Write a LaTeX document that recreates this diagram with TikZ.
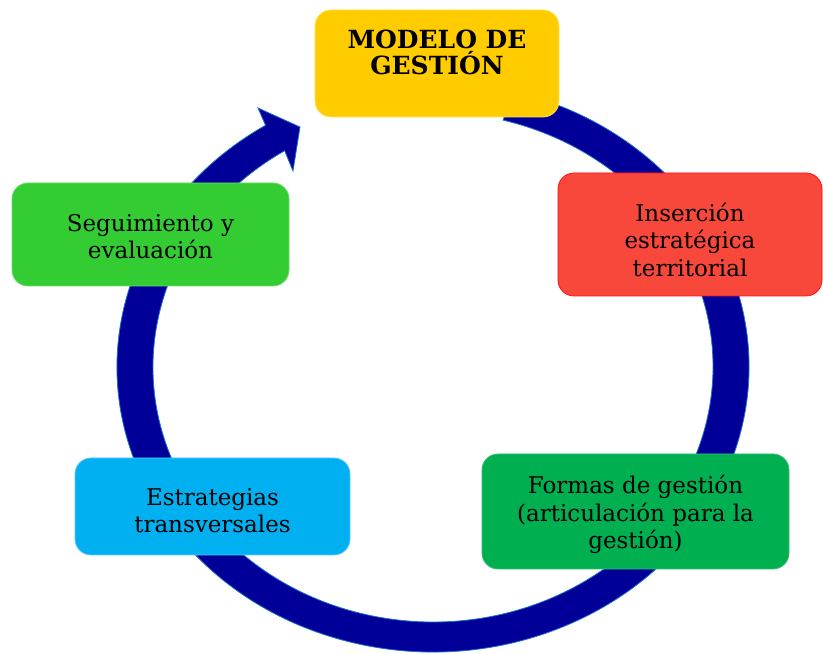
\documentclass[tikz,border=0pt]{standalone}
\usepackage{fontspec}
\setmainfont{DejaVu Serif}
\definecolor{ringc}{HTML}{000099}
\definecolor{ringedge}{HTML}{1F6FD0}
\definecolor{ylw}{HTML}{FFCC00}
\definecolor{ylwb}{HTML}{FFE44D}
\definecolor{redf}{HTML}{F8473B}
\definecolor{redb}{HTML}{FF1010}
\definecolor{grnf}{HTML}{00AF50}
\definecolor{grnb}{HTML}{33BF70}
\definecolor{bluf}{HTML}{00B0F0}
\definecolor{blub}{HTML}{5CC8FF}
\definecolor{limf}{HTML}{33CC33}
\definecolor{limb}{HTML}{66DD66}
\begin{document}
\begin{tikzpicture}[x=1pt,y=1pt,
  box/.style={rectangle, rounded corners=16pt, line width=0.8pt, inner sep=0pt},
  txt/.style={align=center, inner sep=0pt, font=\fontsize{23}{27.5}\selectfont}]
\useasboundingbox (0,0) rectangle (823,654);
\coordinate (c) at (433,287);
\coordinate (ob) at (258,546);
\coordinate (tip) at (300,527);
\coordinate (ib) at (293,483);
\fill[ringc, draw=ringedge, line width=0.8pt]
  ([shift={(c)}]75.5:316 and 285) arc[start angle=75.5, end angle=-238, x radius=316, y radius=285]
  -- (ob) -- (tip) -- (ib)
  -- ([shift={(c)}]-238:280 and 255) arc[start angle=-238, end angle=75.5, x radius=280, y radius=255]
  -- cycle;
% boxes
\node[box, fill=ylw, draw=ylwb, minimum width=244pt, minimum height=107pt] (mg) at (437,590.5) {};
\node[txt, font=\bfseries\fontsize{25}{26}\selectfont] (mgt) at ([yshift=11]mg.center) {MODELO DE\\GESTIÓN};
\node[box, fill=redf, draw=redb, minimum width=264pt, minimum height=123pt] (ins) at (690,419.5) {};
\node[txt] (inst) at ([yshift=-5]ins.center) {Inserción\\estratégica\\territorial};
\node[box, fill=grnf, draw=grnb, minimum width=307pt, minimum height=115pt] (fg) at (635.5,142.5) {};
\node[txt] (fgt) at ([yshift=-3]fg.center) {Formas de gestión\\(articulación para la\\gestión)};
\node[box, fill=bluf, draw=blub, minimum width=275pt, minimum height=97pt] (et) at (212.5,147.5) {};
\node[txt] (ett) at ([yshift=-4]et.center) {Estrategias\\transversales};
\node[box, fill=limf, draw=limb, minimum width=277pt, minimum height=103pt] (se) at (150.5,419.5) {};
\node[txt] (set) at ([yshift=-2]se.center) {Seguimiento y\\evaluación};
\end{tikzpicture}
\end{document}
